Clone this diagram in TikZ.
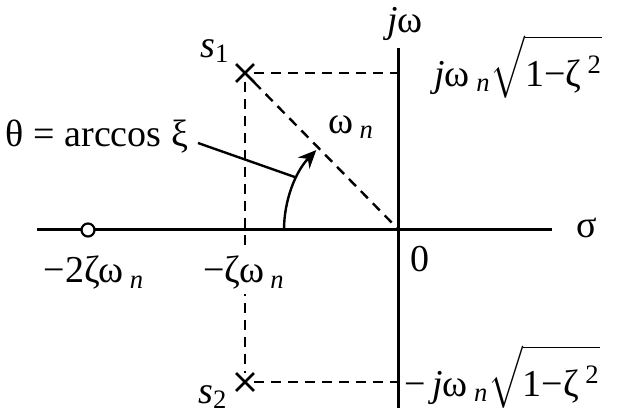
\documentclass[tikz,border=0pt]{standalone}
\usepackage{exscale}
\usepackage{fontspec}
\setmainfont{Liberation Serif}
\usetikzlibrary{
    arrows.meta,
    shapes.misc
}
\newcommand{\wn}{ω\,\textsubscript{\textit{n}}}
\newcommand{\rootz}{$\sqrt{\rule[-0.25em]{0pt}{1.4em}\mbox{1−ζ\,\textsuperscript{2}}}$}

\begin{document}
\begin{tikzpicture}[
    x=0.5pt, y=0.5pt,
    axis/.style={line width=1.5pt},
    guide/.style={line width=1.2pt, dash pattern=on 5pt off 3.5pt},
    pole/.style={cross out, draw, line width=1.4pt, minimum size=7.5pt, inner sep=0pt},
    zeromark/.style={circle, draw, fill=white, line width=1.1pt, minimum size=6.5pt, inner sep=0pt},
    lbl/.style={font=\fontsize{19}{22}\selectfont, inner sep=1pt},
    arr/.style={line width=1.2pt, -{Stealth[length=9pt, width=8pt]}},
]
\useasboundingbox (0,0) rectangle (629,417);

% axes
\coordinate (O) at (399,187);
\coordinate (xl) at (37,187);
\coordinate (xr) at (552,187);
\coordinate (yt) at (399,369);
\coordinate (yb) at (399,9);
\draw[axis] (xl) -- (xr);
\draw[axis] (yb) -- (yt);

% poles and zero
\node[pole] (s1) at (245,344) {};
\node[pole] (s2) at (245,35) {};
\coordinate (im1) at (399,344);
\coordinate (im2) at (399,35);
\draw[guide] (s1) -- (im1);
\draw[guide] (s2) -- (im2);
\draw[guide] (s1) -- (s2);
\draw[guide] (s1) -- (O);
\node[zeromark] (z) at (88,187) {};

% angle theta
\draw[arr] (O) ++(180:115) arc[start angle=180, end angle=136, radius=115];
\path (O) ++(153:116) coordinate (thetaPt);
\coordinate (thetaStart) at (198,274);
\draw[line width=1.2pt] (thetaStart) -- (thetaPt);

% labels
\node[lbl] (lblTheta) at (97,280) {θ = arccos ξ};
\node[lbl] (lblWn) at (351,290) {\wn};
\node[lbl] (lblS1) at (215,366) {\textit{s}\textsubscript{1}};
\node[lbl] (lblS2) at (213,20) {\textit{s}\textsubscript{2}};
\node[lbl] (lblJw) at (405,393) {\textit{j}ω};
\node[lbl] (lblSigma) at (587,189) {σ};
\node[lbl] (lblZero) at (420,158) {0};
\node[lbl] (lblTwoZw) at (94,144) {−2ζ\wn};
\node[lbl, fill=white, inner sep=2pt] (lblZw) at (244,144) {−ζ\wn};
\node[lbl, anchor=west] (lblTop) at (432,350) {\textit{j}\wn\rootz};
\node[lbl, anchor=west] (lblBot) at (402,40) {−\,\textit{j}\wn\rootz};
\end{tikzpicture}
\end{document}
